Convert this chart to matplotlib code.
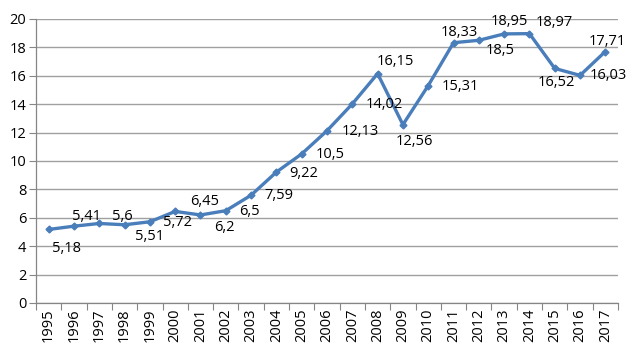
import matplotlib
matplotlib.use("Agg")
import matplotlib.pyplot as plt
import numpy as np

years = [str(y) for y in range(1995, 2018)]
values = [5.18, 5.41, 5.6, 5.51, 5.72, 6.45, 6.2, 6.5, 7.59, 9.22, 10.5, 12.13,
          14.02, 16.15, 12.56, 15.31, 18.33, 18.5, 18.95, 18.97, 16.52, 16.03, 17.71]
labels = [str(v).replace('.', ',') for v in values]
# label offsets in pixels (dx, dy up)
offsets = [(18, -19), (13, 10), (23, 7), (25, -12), (28, -1), (29, 10), (24, -13),
           (24, -1), (28, 0), (27, -1), (28, -1), (33, -1), (32, -1), (18, 12),
           (11, -17), (32, -1), (6, 10), (21, -10), (5, 12), (25, 11), (2, -14),
           (28, 0), (2, 10)]

plt.rcParams['font.family'] = ['Open Sans', 'DejaVu Sans']
fig = plt.figure(figsize=(6.28, 3.61), dpi=100)
ax = fig.add_axes([36/628, 1-303/361, (618-36)/628, (303-19)/361])

x = np.arange(len(years))
color = '#4A7EBB'
ax.plot(x, values, color=color, lw=2.4, marker='D', ms=3.5, zorder=3)

for xi, v, lab, (dx, dy) in zip(x, values, labels, offsets):
    ax.annotate(lab, (xi, v), xytext=(dx*0.72, dy*0.72), textcoords='offset points',
                ha='center', va='center', fontsize=10.5, color='black', zorder=4)

ax.set_xlim(-0.5, len(years)-0.5)
ax.set_ylim(0, 20)
ax.set_yticks(np.arange(0, 21, 2))
ax.set_xticks(x)
ax.set_xticklabels(years, rotation=90, fontsize=10.5)
ax.set_xticks(np.arange(-0.5, len(years), 1), minor=True)
ax.tick_params(axis='x', which='major', length=0, pad=4)
ax.tick_params(axis='x', which='minor', length=5, color='#868686', width=0.8)
ax.tick_params(axis='y', length=5, color='#868686', width=0.8, labelsize=10.5, pad=2)
ax.grid(axis='y', color='#a0a0a0', lw=1.0, zorder=0)
for s in ['top', 'right']:
    ax.spines[s].set_visible(False)
for s in ['left', 'bottom']:
    ax.spines[s].set_color('#868686')
    ax.spines[s].set_linewidth(0.9)

fig.savefig('out.png', dpi=100)
